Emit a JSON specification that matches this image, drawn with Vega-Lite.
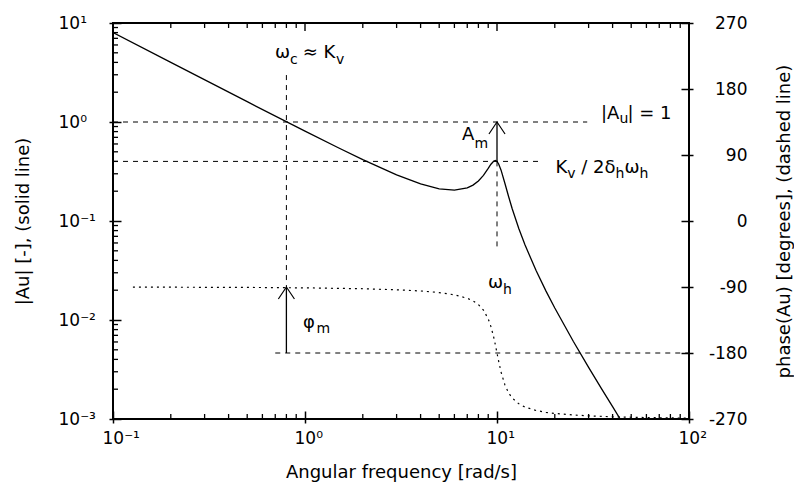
{
  "$schema": "https://vega.github.io/schema/vega-lite/v6.json",
  "width": 576,
  "height": 396,
  "autosize": {"type": "none"},
  "padding": {"left": 113, "top": 23, "right": 105, "bottom": 69},
  "background": "white",
  "config": {
    "view": {"stroke": "black", "strokeWidth": 2},
    "font": "DejaVu Sans",
    "axis": {
      "domain": false, "grid": false, "ticks": true, "tickColor": "#000000", "tickWidth": 1.5,
      "labelColor": "black", "titleColor": "black", "labelFont": "DejaVu Sans", "titleFont": "DejaVu Sans",
      "labelFontSize": 17, "titleFontSize": 18, "titleFontWeight": "normal", "labelOverlap": false, "labelFlush": false
    }
  },
  "datasets": {
    "mag": [
      {"w": 0.1, "a": 8.0}, {"w": 0.2, "a": 4.0}, {"w": 0.5, "a": 1.604}, {"w": 1, "a": 0.8079},
      {"w": 1.5, "a": 0.5465}, {"w": 2, "a": 0.4163}, {"w": 3, "a": 0.2924}, {"w": 4, "a": 0.237},
      {"w": 5, "a": 0.2115}, {"w": 6, "a": 0.2048}, {"w": 7, "a": 0.2161}, {"w": 7.5, "a": 0.2306},
      {"w": 8, "a": 0.2538}, {"w": 8.5, "a": 0.2892}, {"w": 9, "a": 0.3396}, {"w": 9.3, "a": 0.3742},
      {"w": 9.6, "a": 0.4018}, {"w": 9.8, "a": 0.4082}, {"w": 10, "a": 0.4}, {"w": 10.2, "a": 0.3771},
      {"w": 10.5, "a": 0.326}, {"w": 11, "a": 0.2391}, {"w": 11.5, "a": 0.1756}, {"w": 12, "a": 0.133},
      {"w": 13, "a": 0.08346}, {"w": 14, "a": 0.05714}, {"w": 16, "a": 0.0314}, {"w": 18, "a": 0.01959},
      {"w": 20, "a": 0.013217}, {"w": 25, "a": 0.006068}, {"w": 30, "a": 0.003324}, {"w": 35, "a": 0.002028},
      {"w": 40, "a": 0.0013314}, {"w": 43.8, "a": 0.001}
    ],
    "phase": [
      {"w": 0.127, "p": -90.14}, {"w": 0.5, "p": -90.57}, {"w": 1, "p": -91.16}, {"w": 2, "p": -92.39},
      {"w": 3, "p": -93.77}, {"w": 4, "p": -95.44}, {"w": 5, "p": -97.59}, {"w": 6, "p": -100.62},
      {"w": 7, "p": -105.35}, {"w": 7.5, "p": -108.92}, {"w": 8, "p": -113.96}, {"w": 8.5, "p": -121.49},
      {"w": 9, "p": -133.45}, {"w": 9.3, "p": -144.0}, {"w": 9.6, "p": -157.79}, {"w": 9.8, "p": -168.58},
      {"w": 10, "p": -180}, {"w": 10.2, "p": -191.2}, {"w": 10.5, "p": -206.0}, {"w": 11, "p": -223.67},
      {"w": 11.5, "p": -234.5}, {"w": 12, "p": -241.39}, {"w": 13, "p": -249.35}, {"w": 14, "p": -253.74},
      {"w": 16, "p": -258.41}, {"w": 18, "p": -260.87}, {"w": 20, "p": -262.41}, {"w": 25, "p": -264.56},
      {"w": 30, "p": -265.71}, {"w": 40, "p": -266.95}, {"w": 50, "p": -267.61}, {"w": 70, "p": -268.33},
      {"w": 100, "p": -268.84}
    ],
    "hmag": [
      {"x1": 0.1, "x2": 29.5, "y": 1},
      {"x1": 0.1, "x2": 16.6, "y": 0.4}
    ],
    "vmag": [
      {"x": 10, "y1": 0.4, "y2": 0.05},
      {"x": 0.8, "y1": 2.98, "y2": 0.0215}
    ],
    "amShaft": [{"x": 10, "y1": 0.4, "y2": 1}],
    "amHead": [{"x": 10, "y": 1}],
    "hph": [{"x1": 0.7, "x2": 100, "y": -180}],
    "phShaft": [{"x": 0.8, "y1": -180, "y2": -90}],
    "phHead": [{"x": 0.8, "y": -90}],
    "xminor": [
      {"v": 0.2}, {"v": 0.3}, {"v": 0.4}, {"v": 0.5}, {"v": 0.6}, {"v": 0.7}, {"v": 0.8}, {"v": 0.9},
      {"v": 2}, {"v": 3}, {"v": 4}, {"v": 5}, {"v": 6}, {"v": 7}, {"v": 8}, {"v": 9},
      {"v": 20}, {"v": 30}, {"v": 40}, {"v": 50}, {"v": 60}, {"v": 70}, {"v": 80}, {"v": 90}
    ],
    "xmajor": [{"v": 0.1}, {"v": 1}, {"v": 10}, {"v": 100}],
    "yminor": [
      {"v": 0.002}, {"v": 0.003}, {"v": 0.004}, {"v": 0.005}, {"v": 0.006}, {"v": 0.007}, {"v": 0.008}, {"v": 0.009},
      {"v": 0.02}, {"v": 0.03}, {"v": 0.04}, {"v": 0.05}, {"v": 0.06}, {"v": 0.07}, {"v": 0.08}, {"v": 0.09},
      {"v": 0.2}, {"v": 0.3}, {"v": 0.4}, {"v": 0.5}, {"v": 0.6}, {"v": 0.7}, {"v": 0.8}, {"v": 0.9},
      {"v": 2}, {"v": 3}, {"v": 4}, {"v": 5}, {"v": 6}, {"v": 7}, {"v": 8}, {"v": 9}
    ],
    "ymajor": [{"v": 0.001}, {"v": 0.01}, {"v": 0.1}, {"v": 1}, {"v": 10}],
    "pmajor": [{"v": -270}, {"v": -180}, {"v": -90}, {"v": 0}, {"v": 90}, {"v": 180}, {"v": 270}],
    "mainText": [
      {"t": "ω", "x": 0.698, "y": 4.43},
      {"t": "≈ K", "x": 0.9728, "y": 4.43},
      {"t": "|A", "x": 34.8, "y": 1.072},
      {"t": "| = 1", "x": 47.83, "y": 1.072},
      {"t": "A", "x": 6.573, "y": 0.658},
      {"t": "K", "x": 20.17, "y": 0.3053},
      {"t": "/ 2δ", "x": 27.49, "y": 0.3053},
      {"t": "ω", "x": 46.08, "y": 0.3053},
      {"t": "ω", "x": 8.978, "y": 0.02104},
      {"t": "φ", "x": 0.9763, "y": 0.0083}
    ],
    "subText": [
      {"t": "c", "x": 0.835, "y": 3.853},
      {"t": "v", "x": 1.45, "y": 3.853},
      {"t": "u", "x": 43.45, "y": 0.977},
      {"t": "m", "x": 7.635, "y": 0.5463},
      {"t": "v", "x": 23.23, "y": 0.2719},
      {"t": "h", "x": 41.42, "y": 0.2719},
      {"t": "h", "x": 55.24, "y": 0.2719},
      {"t": "h", "x": 10.75, "y": 0.01831},
      {"t": "m", "x": 1.148, "y": 0.00739}
    ]
  },
  "layer": [
    {
      "data": {"name": "mag"},
      "mark": {"type": "line", "color": "black", "strokeWidth": 1.3, "clip": true},
      "encoding": {
        "x": {"field": "w", "type": "quantitative", "scale": {"type": "log", "domain": [0.1, 100], "nice": false},
          "axis": {"orient": "bottom", "values": [0.1, 1, 10, 100], "offset": -8, "tickSize": 12, "labelAlign": "left", "labelOffset": -11, "labelBaseline": "alphabetic", "labelPadding": 20,
            "labelExpr": "'10' + ['⁻¹','⁰','¹','²'][round(log(datum.value)/LN10)+1]",
            "title": "Angular frequency [rad/s]", "titleBaseline": "alphabetic", "titleY": 66}},
        "y": {"field": "a", "type": "quantitative", "scale": {"type": "log", "domain": [0.001, 10], "nice": false},
          "axis": {"orient": "left", "values": [0.001, 0.01, 0.1, 1, 10], "offset": -8, "tickSize": 12, "labelAlign": "left", "labelPadding": 51,
            "labelExpr": "'10' + ['⁻³','⁻²','⁻¹','⁰','¹'][round(log(datum.value)/LN10)+3]",
            "title": "|Au| [-], (solid line)", "titleBaseline": "alphabetic", "titleX": -93, "titleY": 198, "titleAngle": 270}}
      }
    },
    {
      "data": {"name": "xminor"},
      "mark": {"type": "tick", "orient": "vertical", "color": "black", "opacity": 1, "size": 5, "thickness": 1.3, "yOffset": -2.5},
      "encoding": {
        "x": {"field": "v", "type": "quantitative", "scale": {"type": "log", "domain": [0.1, 100], "nice": false}, "axis": null},
        "y": {"datum": 0.001, "type": "quantitative", "scale": {"type": "log", "domain": [0.001, 10], "nice": false}, "axis": null}
      }
    },
    {
      "data": {"name": "xminor"},
      "mark": {"type": "tick", "orient": "vertical", "color": "black", "opacity": 1, "size": 5, "thickness": 1.3, "yOffset": 2.5},
      "encoding": {
        "x": {"field": "v", "type": "quantitative", "scale": {"type": "log", "domain": [0.1, 100], "nice": false}, "axis": null},
        "y": {"datum": 10, "type": "quantitative", "scale": {"type": "log", "domain": [0.001, 10], "nice": false}, "axis": null}
      }
    },
    {
      "data": {"name": "xmajor"},
      "mark": {"type": "tick", "orient": "vertical", "color": "black", "opacity": 1, "size": 8, "thickness": 1.4, "yOffset": 4},
      "encoding": {
        "x": {"field": "v", "type": "quantitative", "scale": {"type": "log", "domain": [0.1, 100], "nice": false}, "axis": null},
        "y": {"datum": 10, "type": "quantitative", "scale": {"type": "log", "domain": [0.001, 10], "nice": false}, "axis": null}
      }
    },
    {
      "data": {"name": "yminor"},
      "mark": {"type": "tick", "orient": "horizontal", "color": "black", "opacity": 1, "size": 5, "thickness": 1.3, "xOffset": 2.5},
      "encoding": {
        "y": {"field": "v", "type": "quantitative", "scale": {"type": "log", "domain": [0.001, 10], "nice": false}, "axis": null},
        "x": {"datum": 0.1, "type": "quantitative", "scale": {"type": "log", "domain": [0.1, 100], "nice": false}, "axis": null}
      }
    },
    {
      "data": {"name": "hmag"},
      "mark": {"type": "rule", "color": "black", "strokeWidth": 1, "strokeDash": [5, 5]},
      "encoding": {
        "x": {"field": "x1", "type": "quantitative", "scale": {"type": "log", "domain": [0.1, 100], "nice": false}, "axis": null},
        "x2": {"field": "x2"},
        "y": {"field": "y", "type": "quantitative", "scale": {"type": "log", "domain": [0.001, 10], "nice": false}, "axis": null}
      }
    },
    {
      "data": {"name": "vmag"},
      "mark": {"type": "rule", "color": "black", "strokeWidth": 1, "strokeDash": [5, 5]},
      "encoding": {
        "x": {"field": "x", "type": "quantitative", "scale": {"type": "log", "domain": [0.1, 100], "nice": false}, "axis": null},
        "y": {"field": "y1", "type": "quantitative", "scale": {"type": "log", "domain": [0.001, 10], "nice": false}, "axis": null},
        "y2": {"field": "y2"}
      }
    },
    {
      "data": {"name": "amShaft"},
      "mark": {"type": "rule", "color": "black", "strokeWidth": 1.3},
      "encoding": {
        "x": {"field": "x", "type": "quantitative", "scale": {"type": "log", "domain": [0.1, 100], "nice": false}, "axis": null},
        "y": {"field": "y1", "type": "quantitative", "scale": {"type": "log", "domain": [0.001, 10], "nice": false}, "axis": null},
        "y2": {"field": "y2"}
      }
    },
    {
      "data": {"name": "amHead"},
      "mark": {"type": "point", "shape": "M-0.67,1L0,0L0.67,1", "filled": false, "stroke": "black", "strokeWidth": 1.2, "size": 576, "opacity": 1},
      "encoding": {
        "x": {"field": "x", "type": "quantitative", "scale": {"type": "log", "domain": [0.1, 100], "nice": false}, "axis": null},
        "y": {"field": "y", "type": "quantitative", "scale": {"type": "log", "domain": [0.001, 10], "nice": false}, "axis": null}
      }
    },
    {
      "data": {"name": "mainText"},
      "mark": {"type": "text", "font": "DejaVu Sans", "fontSize": 18, "align": "left", "baseline": "alphabetic", "color": "black"},
      "encoding": {
        "x": {"field": "x", "type": "quantitative", "scale": {"type": "log", "domain": [0.1, 100], "nice": false}, "axis": null},
        "y": {"field": "y", "type": "quantitative", "scale": {"type": "log", "domain": [0.001, 10], "nice": false}, "axis": null},
        "text": {"field": "t"}
      }
    },
    {
      "data": {"name": "subText"},
      "mark": {"type": "text", "font": "DejaVu Sans", "fontSize": 14, "align": "left", "baseline": "alphabetic", "color": "black"},
      "encoding": {
        "x": {"field": "x", "type": "quantitative", "scale": {"type": "log", "domain": [0.1, 100], "nice": false}, "axis": null},
        "y": {"field": "y", "type": "quantitative", "scale": {"type": "log", "domain": [0.001, 10], "nice": false}, "axis": null},
        "text": {"field": "t"}
      }
    },
    {
      "data": {"name": "phase"},
      "mark": {"type": "line", "color": "black", "strokeWidth": 1.2, "strokeDash": [2, 4]},
      "encoding": {
        "x": {"field": "w", "type": "quantitative", "scale": {"type": "log", "domain": [0.1, 100], "nice": false}, "axis": null},
        "y": {"field": "p", "type": "quantitative", "scale": {"type": "linear", "domain": [-270, 270], "nice": false, "zero": false},
          "axis": {"orient": "right", "values": [-270, -180, -90, 0, 90, 180, 270], "offset": -8, "tickSize": 12, "labelAlign": "right", "labelPadding": 54,
            "labelExpr": "'' + datum.value",
            "title": "phase(Au) [degrees], (dashed line)", "titleBaseline": "alphabetic", "titleX": 108, "titleY": 198, "titleAngle": 270}}
      }
    },
    {
      "data": {"name": "hph"},
      "mark": {"type": "rule", "color": "black", "strokeWidth": 1, "strokeDash": [5, 5]},
      "encoding": {
        "x": {"field": "x1", "type": "quantitative", "scale": {"type": "log", "domain": [0.1, 100], "nice": false}, "axis": null},
        "x2": {"field": "x2"},
        "y": {"field": "y", "type": "quantitative", "scale": {"type": "linear", "domain": [-270, 270], "nice": false, "zero": false}, "axis": null}
      }
    },
    {
      "data": {"name": "phShaft"},
      "mark": {"type": "rule", "color": "black", "strokeWidth": 1.3},
      "encoding": {
        "x": {"field": "x", "type": "quantitative", "scale": {"type": "log", "domain": [0.1, 100], "nice": false}, "axis": null},
        "y": {"field": "y1", "type": "quantitative", "scale": {"type": "linear", "domain": [-270, 270], "nice": false, "zero": false}, "axis": null},
        "y2": {"field": "y2"}
      }
    },
    {
      "data": {"name": "phHead"},
      "mark": {"type": "point", "shape": "M-0.67,1L0,0L0.67,1", "filled": false, "stroke": "black", "strokeWidth": 1.2, "size": 576, "opacity": 1},
      "encoding": {
        "x": {"field": "x", "type": "quantitative", "scale": {"type": "log", "domain": [0.1, 100], "nice": false}, "axis": null},
        "y": {"field": "y", "type": "quantitative", "scale": {"type": "linear", "domain": [-270, 270], "nice": false, "zero": false}, "axis": null}
      }
    }
  ],
  "resolve": {
    "scale": {"x": "independent", "y": "independent"},
    "axis": {"x": "independent", "y": "independent"}
  }
}
